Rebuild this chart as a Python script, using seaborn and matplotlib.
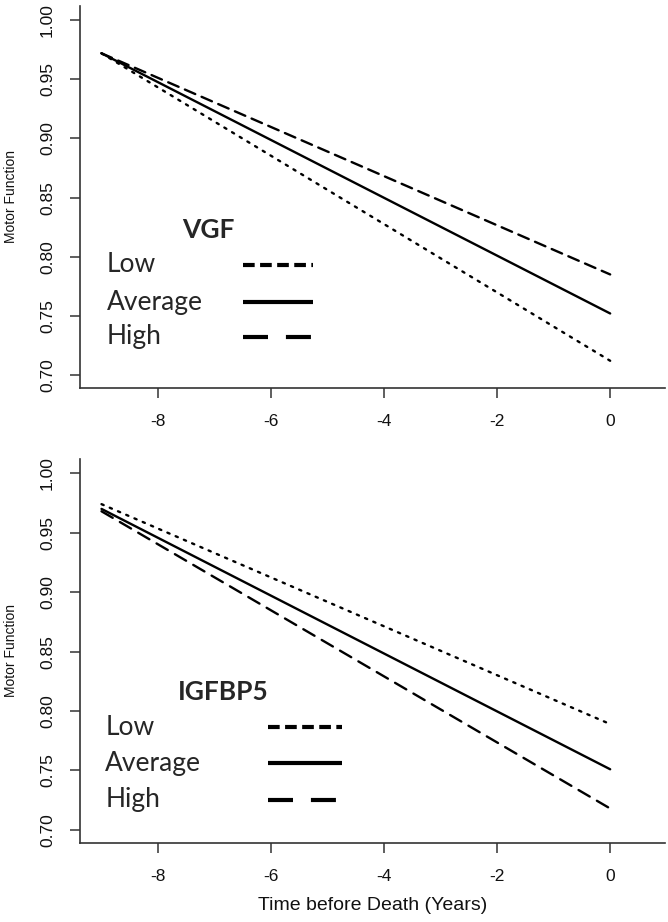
import numpy as np
import pandas as pd
import seaborn as sns
import matplotlib.pyplot as plt

sns.set_theme(style="ticks")
plt.rcParams['font.family'] = ['Liberation Sans', 'DejaVu Sans']

# data: straight lines from -9 to 0 years
years = [-9, 0]
vgf_upper = [0.972, 0.785]    # dashed
vgf_avg = [0.972, 0.752]      # solid
vgf_lower = [0.972, 0.712]    # dotted
igf_upper = [0.974, 0.789]    # dotted
igf_avg = [0.970, 0.751]      # solid
igf_lower = [0.968, 0.718]    # dashed

yticks = [0.70, 0.75, 0.80, 0.85, 0.90, 0.95, 1.00]
xticks = [-8, -6, -4, -2, 0]
key_labels = ["Low", "Average", "High"]

fig = plt.figure(figsize=(6.68, 9.22), dpi=100)
ax1 = fig.add_axes([0.1198, 0.5792, 0.8757, 0.4143])
ax2 = fig.add_axes([0.1198, 0.0857, 0.8757, 0.4165])

dotted = (0, (1, 2.8))


def draw_panel(ax, series):
    for vals, ls in series:
        d = pd.DataFrame({"x": years, "y": vals})
        sns.lineplot(data=d, x="x", y="y", ax=ax, color="black", lw=1.7,
                     linestyle=ls, dash_capstyle="round")
    ax.set_xlim(-9.38, 0.97)
    ax.set_ylim(0.689, 1.012)
    ax.set_xticks(xticks)
    ax.set_xticklabels([str(t) for t in xticks])
    ax.set_yticks(yticks)
    ax.set_yticklabels(["%.2f" % t for t in yticks], rotation=90, va="center")
    ax.tick_params(length=7, width=1.1, color="#333333", labelsize=12.5,
                   labelcolor="#111111")
    ax.tick_params(axis="x", pad=12)
    ax.tick_params(axis="y", pad=11)
    sns.despine(ax=ax)
    for s in ["left", "bottom"]:
        ax.spines[s].set_color("#333333")
        ax.spines[s].set_linewidth(1.2)
    ax.set_ylabel("Motor Function", fontsize=10, labelpad=16, color="#111111")
    ax.set_xlabel("")


def draw_key(ax, title, tx, ty, lx, rows, x0, x1):
    kf = ['Lato', 'DejaVu Sans']
    ax.text(tx, ty, title, transform=ax.transAxes, ha="center", va="center",
            fontsize=19, fontweight="bold", family=kf)
    styles = [(0, (2.8, 1.3)), "-", (0, (6, 4.3))]
    for lab, yy, st in zip(key_labels, rows, styles):
        ax.text(lx, yy, lab, transform=ax.transAxes, ha="left", va="center",
                fontsize=19, family=kf)
        ax.plot([x0, x1], [yy, yy], transform=ax.transAxes, color="black",
                lw=3, linestyle=st, solid_capstyle="butt", dash_capstyle="butt")


draw_panel(ax1, [(vgf_upper, (0, (4.8, 2.9))), (vgf_avg, "-"), (vgf_lower, dotted)])
draw_panel(ax2, [(igf_upper, dotted), (igf_avg, "-"), (igf_lower, (0, (5.5, 3.5)))])

draw_key(ax1, "VGF", 0.219, 0.414, 0.046, [0.322, 0.225, 0.134], 0.279, 0.398)
draw_key(ax2, "IGFBP5", 0.244, 0.393, 0.043, [0.302, 0.208, 0.112], 0.321, 0.448)

ax2.set_xlabel("Time before Death (Years)", fontsize=14, labelpad=9, color="#111111")

fig.savefig("out.png", dpi=100)
